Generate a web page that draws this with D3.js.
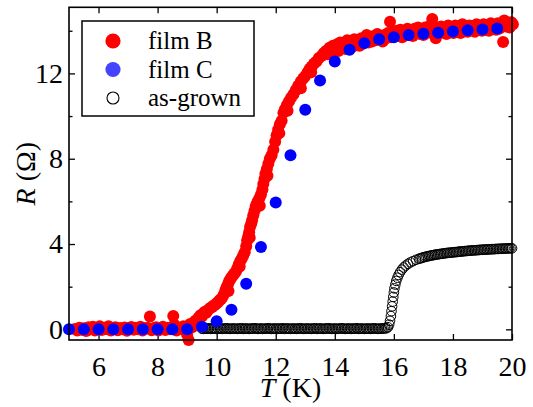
<!DOCTYPE html>
<html>
<head>
<meta charset="utf-8">
<script src="https://d3js.org/d3.v7.min.js"></script>
<style>
  body { margin: 0; }
  svg text, svg tspan { font-family: "Liberation Serif" !important; }
</style>
</head>
<body>
<svg width="533" height="407"></svg>
<script>
// film B (red), T in K and R in ohm
var filmBT = [5.20,5.28,5.35,5.43,5.50,5.58,5.66,5.73,5.81,5.88,5.96,6.04,6.11,6.19,6.27,6.34,6.42,6.50,6.57,6.65,
  6.73,6.80,6.88,6.96,7.03,7.11,7.19,7.26,7.34,7.42,7.49,7.57,7.65,7.74,7.80,7.88,7.95,8.03,8.11,8.18,
  8.26,8.34,8.41,8.49,8.53,8.57,8.64,8.72,8.80,8.87,8.95,9.00,9.05,9.10,9.17,9.24,9.30,
  9.35,9.40,9.45,9.50,9.55,9.60,9.65,9.72,9.78,9.85,9.90,9.95,10.00,10.05,10.10,10.15,10.20,10.25,10.30,10.34,
  10.38,10.40,10.42,10.46,10.50,10.55,10.60,10.65,10.70,10.75,10.78,10.80,10.85,10.90,10.95,11.00,11.03,11.07,11.10,11.12,
  11.13,11.17,11.20,11.24,11.28,11.32,11.36,11.40,11.45,11.46,11.50,11.55,11.58,11.62,11.65,11.70,11.72,11.75,11.80,11.86,
  11.92,11.98,12.03,12.08,12.12,12.14,12.20,12.26,12.31,12.38,12.40,12.45,12.52,12.60,12.68,12.76,12.85,12.85,12.93,13.00,
  13.08,13.15,13.20,13.22,13.30,13.38,13.46,13.55,
  13.62,13.70,13.76,13.82,13.88,13.94,14.00,14.06,14.12,14.18,14.24,14.30,14.36,14.42,14.48,14.54,14.60,14.66,14.72,14.78,
  14.84,14.90,14.96,15.02,15.08,15.14,15.20,15.26,15.32,15.38,15.44,15.50,15.56,15.62,15.68,15.74,15.80,15.87,15.92,15.98,
  16.04,16.10,16.16,16.22,16.28,16.34,16.40,16.46,16.52,16.58,16.64,16.70,16.76,16.82,16.88,16.94,17.00,17.06,17.12,17.18,
  17.24,17.30,17.36,17.42,17.48,17.54,17.60,17.66,17.72,17.78,17.84,17.90,17.96,18.02,18.08,18.14,18.20,18.26,18.32,18.38,
  18.44,18.50,18.56,18.62,18.68,18.74,18.80,18.86,18.92,18.98,19.04,19.10,19.16,19.22,19.28,19.34,19.40,19.46,19.52,19.58,
  19.64,19.70,19.74,19.80,19.86,19.92,19.98,20.03];
var filmBR = [0.02,-0.06,0.08,-0.02,0.05,-0.08,0.10,0.00,0.12,-0.05,0.06,0.15,-0.03,0.08,0.02,0.14,-0.06,0.04,0.10,-0.04,
  0.06,0.00,0.09,-0.07,0.05,0.11,-0.02,0.07,0.00,0.12,-0.05,0.04,0.08,0.60,-0.04,0.06,0.10,-0.06,0.03,0.12,
  -0.03,0.07,0.00,0.10,0.62,0.22,-0.05,0.08,0.02,0.14,-0.02,-0.25,-0.50,0.25,0.10,0.35,0.42,
  0.48,0.55,0.66,0.60,0.75,0.82,0.78,0.92,1.00,1.05,1.12,1.15,1.22,1.28,1.36,1.42,1.52,1.66,1.85,1.98,
  2.10,1.80,2.25,2.35,2.44,2.52,2.62,2.70,2.86,3.05,2.95,3.20,3.32,3.46,3.62,3.90,4.17,4.36,4.55,4.30,
  4.80,4.95,5.12,5.35,5.55,5.76,5.90,6.02,6.16,5.80,6.32,6.56,6.82,7.05,7.30,7.52,7.20,7.76,8.00,8.16,
  8.42,8.80,9.10,9.36,9.20,9.62,9.78,10.15,10.32,10.52,10.25,10.70,10.86,11.02,11.22,11.42,11.62,11.30,11.76,11.88,
  12.06,12.22,12.05,12.32,12.46,12.56,12.72,12.82,
  12.95,13.05,12.90,13.20,13.00,13.30,13.10,13.35,13.05,13.45,13.20,13.40,13.15,13.55,13.30,13.45,13.25,13.60,13.35,13.50,
  13.30,13.65,13.40,13.55,13.80,13.45,13.70,13.50,13.75,13.55,13.85,13.60,13.75,13.50,13.80,13.65,13.90,14.42,13.70,13.95,
  13.75,14.00,13.80,14.05,13.70,13.95,13.85,14.10,13.80,14.00,13.75,14.10,13.90,14.15,13.85,14.05,13.80,14.15,13.90,14.20,
  13.95,14.55,14.10,13.65,14.15,13.90,14.20,13.95,14.10,13.85,14.25,13.95,14.15,13.90,14.25,14.00,14.15,13.90,14.30,14.00,
  14.20,13.95,14.25,14.05,14.20,13.95,14.30,14.05,14.20,14.00,14.30,14.05,14.25,14.00,14.35,14.10,14.25,14.05,14.35,14.10,
  14.25,13.47,14.48,14.20,14.35,14.15,14.40,14.30];

// film C (blue)
var filmCT = [5.0,5.5,6.0,6.5,7.0,7.5,8.0,8.5,9.0,9.5,10.0,10.5,11.0,11.5,12.0,12.5,13.0,13.5,14.0,14.5,
  15.0,15.5,16.0,16.5,17.0,17.5,18.0,18.5,19.0,19.5];
var filmCR = [0.0,0.0,0.0,0.0,0.0,0.0,0.0,0.0,0.0,0.12,0.38,0.92,2.14,3.86,5.95,8.16,10.3,11.67,12.56,13.11,
  13.42,13.6,13.7,13.8,13.86,13.91,13.97,14.02,14.06,14.11];

// as-grown (open circles)
var asGrownT = [9.50,9.55,9.60,9.65,9.70,9.75,9.80,9.85,9.90,9.95,
  10.00,10.05,10.10,10.15,10.20,10.25,10.30,10.35,10.40,10.45,10.50,10.55,10.60,10.65,10.70,10.75,10.80,10.85,10.90,10.95,
  11.00,11.05,11.10,11.15,11.20,11.25,11.30,11.35,11.40,11.45,11.50,11.55,11.60,11.65,11.70,11.75,11.80,11.85,11.90,11.95,
  12.00,12.05,12.10,12.15,12.20,12.25,12.30,12.35,12.40,12.45,12.50,12.55,12.60,12.65,12.70,12.75,12.80,12.85,12.90,12.95,
  13.00,13.05,13.10,13.15,13.20,13.25,13.30,13.35,13.40,13.45,13.50,13.55,13.60,13.65,13.70,13.75,13.80,13.85,13.90,13.95,
  14.00,14.05,14.10,14.15,14.20,14.25,14.30,14.35,14.40,14.45,14.50,14.55,14.60,14.65,14.70,14.75,14.80,14.85,14.90,14.95,
  15.00,15.05,15.10,15.15,15.20,15.25,15.30,15.35,15.40,15.45,15.50,15.55,15.60,15.65,15.70,
  15.75,15.80,15.84,15.87,15.90,15.92,15.94,15.96,15.98,16.00,16.02,16.05,16.08,16.12,16.16,16.21,16.27,16.33,16.40,16.48,
  16.56,16.65,16.75,16.85,16.90,16.95,17.00,17.05,17.10,17.15,17.20,17.25,17.30,17.35,17.40,17.45,17.50,17.55,17.60,17.65,
  17.70,17.75,17.80,17.85,17.90,17.95,18.00,18.05,18.10,18.15,18.20,18.25,18.30,18.35,18.40,18.45,18.50,18.55,18.60,18.65,
  18.70,18.75,18.80,18.85,18.90,18.95,19.00,19.05,19.10,19.15,19.20,19.25,19.30,19.35,19.40,19.45,19.50,19.55,19.60,19.65,
  19.70,19.75,19.80,19.85,19.90,19.95,20.00];
var asGrownR = [0.03,0.02,0.04,0.03,0.03,0.05,0.02,0.03,0.04,0.03,
  0.02,0.03,0.04,0.03,0.02,0.04,0.03,0.05,0.03,0.02,0.03,0.04,0.03,0.03,0.02,0.04,0.03,0.05,0.02,0.03,
  0.04,0.03,0.02,0.03,0.04,0.03,0.05,0.03,0.02,0.03,0.04,0.02,0.03,0.03,0.04,0.05,0.03,0.02,0.03,0.04,
  0.03,0.02,0.04,0.03,0.03,0.05,0.02,0.03,0.04,0.03,0.02,0.03,0.04,0.03,0.02,0.04,0.03,0.05,0.03,0.02,
  0.03,0.04,0.03,0.03,0.02,0.04,0.03,0.05,0.02,0.03,0.04,0.03,0.02,0.03,0.04,0.03,0.05,0.03,0.02,0.03,
  0.04,0.02,0.03,0.03,0.04,0.05,0.03,0.02,0.03,0.04,0.03,0.02,0.04,0.03,0.03,0.05,0.02,0.03,0.04,0.03,
  0.02,0.03,0.04,0.03,0.02,0.04,0.03,0.05,0.03,0.02,0.03,0.04,0.03,0.04,0.05,
  0.05,0.10,0.22,0.40,0.62,0.85,1.08,1.30,1.52,1.73,1.92,2.10,2.27,2.42,2.55,2.68,2.80,2.90,2.99,3.07,
  3.14,3.20,3.26,3.31,3.33,3.35,3.38,3.39,3.41,3.43,3.44,3.46,3.47,3.48,3.50,3.51,3.52,3.53,3.54,3.55,
  3.56,3.57,3.58,3.59,3.59,3.60,3.61,3.62,3.62,3.63,3.64,3.65,3.65,3.66,3.67,3.67,3.68,3.69,3.69,3.70,
  3.70,3.71,3.71,3.72,3.72,3.73,3.73,3.74,3.74,3.74,3.75,3.75,3.76,3.76,3.76,3.77,3.77,3.77,3.78,3.78,
  3.78,3.79,3.79,3.79,3.80,3.80,3.80];

var xTicks = [6, 8, 10, 12, 14, 16, 18, 20];
var yTicks = [0, 4, 8, 12];
var yMinor = [2, 6, 10, 14];
var legendLabels = ["film B", "film C", "as-grown"];

var svg = d3.select("svg");
var plotLeft = 69, plotRight = 512, plotTop = 7.3, plotBottom = 340;

var x = d3.scaleLinear().domain([5, 20]).range([plotLeft, plotRight]);
var y = d3.scaleLinear().domain([-0.5, 15.1]).range([plotBottom, plotTop]);

function limpa(g) {
  g.select(".domain").remove();
  g.attr("font-family", "Liberation Serif");
  g.selectAll(".tick line").attr("stroke", "black").attr("stroke-width", 1.3);
  g.selectAll(".tick text").attr("fill", "black").attr("font-size", 28);
}

// eixos: ticks para dentro nos quatro lados
svg.append("g").attr("transform", "translate(0," + plotBottom + ")")
  .call(d3.axisBottom(x).tickValues(xTicks).tickSize(-6).tickPadding(16).tickFormat(d3.format("d")))
  .call(limpa);
svg.append("g").attr("transform", "translate(0," + plotTop + ")")
  .call(d3.axisTop(x).tickValues(xTicks).tickSize(-6).tickFormat(""))
  .call(limpa);
svg.append("g").attr("transform", "translate(" + plotLeft + ",0)")
  .call(d3.axisLeft(y).tickValues(yTicks).tickSize(-6).tickPadding(6).tickFormat(d3.format("d")))
  .call(limpa);
svg.append("g").attr("transform", "translate(" + plotLeft + ",0)")
  .call(d3.axisLeft(y).tickValues(yMinor).tickSize(-3.5).tickFormat(""))
  .call(limpa);
svg.append("g").attr("transform", "translate(" + plotRight + ",0)")
  .call(d3.axisRight(y).tickValues(yTicks).tickSize(-6).tickFormat(""))
  .call(limpa);
svg.append("g").attr("transform", "translate(" + plotRight + ",0)")
  .call(d3.axisRight(y).tickValues(yMinor).tickSize(-3.5).tickFormat(""))
  .call(limpa);

// dados
svg.append("g").selectAll("circle")
  .data(d3.range(asGrownT.length))
  .join("circle")
    .attr("cx", i => x(asGrownT[i]))
    .attr("cy", i => y(asGrownR[i]))
    .attr("r", 4.8)
    .attr("fill", "none")
    .attr("stroke", "black")
    .attr("stroke-width", 1);

svg.append("g").selectAll("circle")
  .data(d3.range(filmBT.length))
  .join("circle")
    .attr("cx", i => x(filmBT[i]))
    .attr("cy", i => y(filmBR[i]))
    .attr("r", 6)
    .attr("fill", "#ff0000");

svg.append("g").selectAll("circle")
  .data(d3.range(filmCT.length))
  .join("circle")
    .attr("cx", i => x(filmCT[i]))
    .attr("cy", i => y(filmCR[i]))
    .attr("r", 6)
    .attr("fill", "#0000ff");

// moldura
svg.append("rect")
  .attr("x", plotLeft).attr("y", plotTop)
  .attr("width", plotRight - plotLeft).attr("height", plotBottom - plotTop)
  .attr("fill", "none").attr("stroke", "black").attr("stroke-width", 1.6);

// legenda
var legenda = svg.append("g");
legenda.append("rect")
  .attr("x", 82).attr("y", 21).attr("width", 172).attr("height", 95)
  .attr("fill", "white").attr("stroke", "black").attr("stroke-width", 1.5);
var item = legenda.selectAll(".item")
  .data(legendLabels)
  .join("g")
    .attr("class", "item")
    .attr("transform", (d, i) => "translate(0," + (41 + i * 28.5) + ")");
item.append("circle")
  .attr("cx", 113).attr("cy", 0)
  .attr("r", (d, i) => i == 2 ? 6 : 7.6)
  .attr("fill", (d, i) => ["#ff0000", "#4444ff", "none"][i])
  .attr("stroke", (d, i) => i == 2 ? "black" : "none")
  .attr("stroke-width", 1.1);
item.append("text")
  .attr("x", 148).attr("y", 8)
  .attr("font-size", 25)
  .text(d => d);

// rotulos dos eixos
var xl = svg.append("text")
  .attr("font-size", 28)
  .attr("x", (plotLeft + plotRight) / 2).attr("y", 397)
  .attr("text-anchor", "middle");
xl.append("tspan").attr("font-style", "italic").text("T");
xl.append("tspan").text(" (K)");

var yl = svg.append("text")
  .attr("font-size", 28)
  .attr("transform", "translate(35," + (plotTop + plotBottom) / 2 + ") rotate(-90)")
  .attr("text-anchor", "middle");
yl.append("tspan").attr("font-style", "italic").text("R");
yl.append("tspan").text(" (\u03a9)");

svg.selectAll("text, tspan")
  .attr("font-family", "Liberation Serif")
  .style("font-family", "Liberation Serif");
</script>
</body>
</html>
